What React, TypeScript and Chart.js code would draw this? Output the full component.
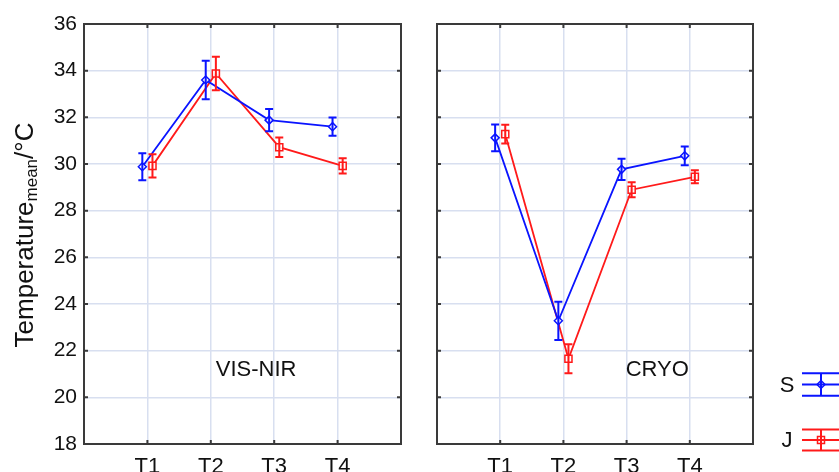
import React, { useEffect, useRef } from "react";
import { Chart, registerables } from "chart.js";

Chart.register(...registerables);

const categories = ["T1", "T2", "T3", "T4"];
const yTicks = [18, 20, 22, 24, 26, 28, 30, 32, 34, 36];

const visNirS = [29.88, 33.6, 31.88, 31.6];
const visNirSErr = [0.58, 0.82, 0.48, 0.39];
const visNirJ = [29.92, 33.88, 30.72, 29.92];
const visNirJErr = [0.5, 0.72, 0.42, 0.33];

const cryoS = [31.12, 23.28, 29.77, 30.35];
const cryoSErr = [0.57, 0.82, 0.46, 0.4];
const cryoJ = [31.28, 21.65, 28.9, 29.45];
const cryoJErr = [0.4, 0.62, 0.32, 0.28];

const seriesNames = ["S", "J"];
const panelNames = ["VIS-NIR", "CRYO"];

const BLUE = "#0a14ff";
const RED = "#ff1a1a";
const GRID = "#d8dff0";
const BORDER = "#3a3a3a";
const FONT = "'Liberation Sans', Arial, Helvetica, sans-serif";
const DODGE = 0.08;

function makeData(vals: number[], offset: number) {
  return vals.map((v, i) => ({ x: i + 1 + offset, y: v }));
}

const errorBarPlugin = {
  id: "errorBars",
  afterDatasetsDraw(chart: any) {
    const ctx = chart.ctx;
    const ys = chart.scales.y;
    chart.data.datasets.forEach((ds: any, di: number) => {
      const meta = chart.getDatasetMeta(di);
      ctx.save();
      ctx.strokeStyle = ds.borderColor;
      ctx.lineWidth = 2;
      meta.data.forEach((el: any, i: number) => {
        const v = ds.data[i].y;
        const e = ds.errors[i];
        const t = ys.getPixelForValue(v + e);
        const b = ys.getPixelForValue(v - e);
        const x = el.x;
        ctx.beginPath();
        ctx.moveTo(x, t);
        ctx.lineTo(x, b);
        ctx.moveTo(x - 4, t);
        ctx.lineTo(x + 4, t);
        ctx.moveTo(x - 4, b);
        ctx.lineTo(x + 4, b);
        ctx.stroke();
      });
      ctx.restore();
    });
  },
};

const framePlugin = {
  id: "frame",
  afterDraw(chart: any) {
    const ctx = chart.ctx;
    const a = chart.chartArea;
    const xs = chart.scales.x;
    const ys = chart.scales.y;
    const opts = chart.options.plugins.frame || {};
    ctx.save();
    ctx.strokeStyle = BORDER;
    ctx.lineWidth = 2;
    ctx.strokeRect(a.left, a.top, a.right - a.left, a.bottom - a.top);
    ctx.beginPath();
    yTicks.forEach((v) => {
      const y = ys.getPixelForValue(v);
      ctx.moveTo(a.left, y);
      ctx.lineTo(a.left + 4, y);
      ctx.moveTo(a.right, y);
      ctx.lineTo(a.right - 4, y);
    });
    categories.forEach((_, i) => {
      const x = xs.getPixelForValue(i + 1);
      ctx.moveTo(x, a.top);
      ctx.lineTo(x, a.top + 4);
      ctx.moveTo(x, a.bottom);
      ctx.lineTo(x, a.bottom - 4);
    });
    ctx.stroke();

    // panel label
    ctx.fillStyle = "#111";
    ctx.font = `22px ${FONT}`;
    ctx.textAlign = "center";
    ctx.textBaseline = "middle";
    ctx.fillText(
      opts.label,
      a.left + opts.labelFx * (a.right - a.left),
      a.top + 0.824 * (a.bottom - a.top)
    );

    if (opts.title) {
      const mainFont = `26px ${FONT}`;
      const subFont = `17px ${FONT}`;
      const p1 = "Temperature";
      const p2 = "mean";
      const p3 = "/°C";
      ctx.font = mainFont;
      const w1 = ctx.measureText(p1).width;
      const w3 = ctx.measureText(p3).width;
      ctx.font = subFont;
      const w2 = ctx.measureText(p2).width;
      const total = w1 + w2 + w3;
      ctx.translate(33, (a.top + a.bottom) / 2 + 1);
      ctx.rotate(-Math.PI / 2);
      ctx.textAlign = "left";
      ctx.textBaseline = "alphabetic";
      let x = -total / 2;
      ctx.font = mainFont;
      ctx.fillText(p1, x, 0);
      x += w1;
      ctx.font = subFont;
      ctx.fillText(p2, x, 4);
      x += w2;
      ctx.font = mainFont;
      ctx.fillText(p3, x, 0);
    }
    ctx.restore();

    if (opts.legend) {
      ctx.save();
      const items = [
        { name: seriesNames[0], color: BLUE, y: 384.5, style: "rectRot" },
        { name: seriesNames[1], color: RED, y: 440, style: "rect" },
      ];
      items.forEach((it, k) => {
        const gap = k === 0 ? 11.2 : 10.5;
        ctx.fillStyle = "#111";
        ctx.font = `22px ${FONT}`;
        ctx.textAlign = "center";
        ctx.textBaseline = "middle";
        ctx.fillText(it.name, 787, it.y + 1);
        ctx.strokeStyle = it.color;
        ctx.lineWidth = 2;
        ctx.beginPath();
        [-gap, 0, gap].forEach((d) => {
          ctx.moveTo(802, it.y + d);
          ctx.lineTo(845, it.y + d);
        });
        ctx.moveTo(821, it.y - gap);
        ctx.lineTo(821, it.y + gap);
        ctx.stroke();
        ctx.lineWidth = 1.5;
        ctx.beginPath();
        if (it.style === "rect") {
          ctx.rect(817.5, it.y - 3.5, 7, 7);
        } else {
          ctx.moveTo(821, it.y - 4);
          ctx.lineTo(825, it.y);
          ctx.lineTo(821, it.y + 4);
          ctx.lineTo(817, it.y);
          ctx.closePath();
        }
        ctx.stroke();
      });
      ctx.restore();
    }
  },
};

function buildConfig(
  sVals: number[],
  sErr: number[],
  jVals: number[],
  jErr: number[],
  isLeft: boolean
): any {
  return {
    type: "scatter",
    data: {
      datasets: [
        {
          label: seriesNames[0],
          data: makeData(sVals, -DODGE),
          errors: sErr,
          showLine: true,
          borderColor: BLUE,
          backgroundColor: "#ffffff",
          borderWidth: 1.8,
          pointStyle: "rectRot",
          pointRadius: 4,
          pointBorderWidth: 1.5,
          pointBorderColor: BLUE,
          pointBackgroundColor: "rgba(255,255,255,0.9)",
        },
        {
          label: seriesNames[1],
          data: makeData(jVals, DODGE),
          errors: jErr,
          showLine: true,
          borderColor: RED,
          backgroundColor: "#ffffff",
          borderWidth: 1.8,
          pointStyle: "rect",
          pointRadius: 5,
          pointBorderWidth: 1.5,
          pointBorderColor: RED,
          pointBackgroundColor: "rgba(255,255,255,0.9)",
        },
      ],
    },
    options: {
      responsive: false,
      animation: false,
      events: [],
      layout: {
        padding: isLeft
          ? { left: 0, right: 839 - 401, top: 24, bottom: 0 }
          : { left: 437, right: 839 - 753, top: 24, bottom: 0 },
      },
      plugins: {
        legend: { display: false },
        tooltip: { enabled: false },
        frame: {
          label: isLeft ? panelNames[0] : panelNames[1],
          labelFx: isLeft ? 0.543 : 0.697,
          title: isLeft,
          legend: !isLeft,
        },
      },
      scales: {
        x: {
          type: "linear",
          min: 0,
          max: 5,
          afterBuildTicks: (s: any) => {
            s.ticks = categories.map((_, i) => ({ value: i + 1 }));
          },
          afterFit: (s: any) => {
            s.height = 28;
          },
          border: { display: false },
          grid: { color: GRID, lineWidth: 1.5, drawTicks: false },
          ticks: {
            padding: 10,
            color: "#111",
            font: { family: FONT, size: 22 },
            maxRotation: 0,
            autoSkip: false,
            callback: (v: number) => categories[Math.round(v) - 1] ?? "",
          },
        },
        y: {
          min: 18,
          max: 36,
          afterBuildTicks: (s: any) => {
            s.ticks = yTicks.map((v) => ({ value: v }));
          },
          afterFit: (s: any) => {
            s.width = isLeft ? 84 : 0;
          },
          border: { display: false },
          grid: { color: GRID, lineWidth: 1.5, drawTicks: false },
          ticks: {
            display: isLeft,
            padding: 7,
            color: "#111",
            font: { family: FONT, size: 21 },
          },
        },
      },
    },
    plugins: [errorBarPlugin, framePlugin],
  };
}

export default function App() {
  const leftRef = useRef<HTMLCanvasElement | null>(null);
  const rightRef = useRef<HTMLCanvasElement | null>(null);

  useEffect(() => {
    const c1 = new Chart(
      leftRef.current as HTMLCanvasElement,
      buildConfig(visNirS, visNirSErr, visNirJ, visNirJErr, true)
    );
    const c2 = new Chart(
      rightRef.current as HTMLCanvasElement,
      buildConfig(cryoS, cryoSErr, cryoJ, cryoJErr, false)
    );
    return () => {
      c1.destroy();
      c2.destroy();
    };
  }, []);

  const canvasStyle: React.CSSProperties = {
    position: "absolute",
    left: 0,
    top: 0,
    width: 839,
    height: 472,
  };

  return (
    <div
      style={{
        position: "fixed",
        left: 0,
        top: 0,
        width: 839,
        height: 472,
        background: "#ffffff",
        overflow: "hidden",
      }}
    >
      <canvas ref={leftRef} width={839} height={472} style={canvasStyle} />
      <canvas ref={rightRef} width={839} height={472} style={canvasStyle} />
    </div>
  );
}
